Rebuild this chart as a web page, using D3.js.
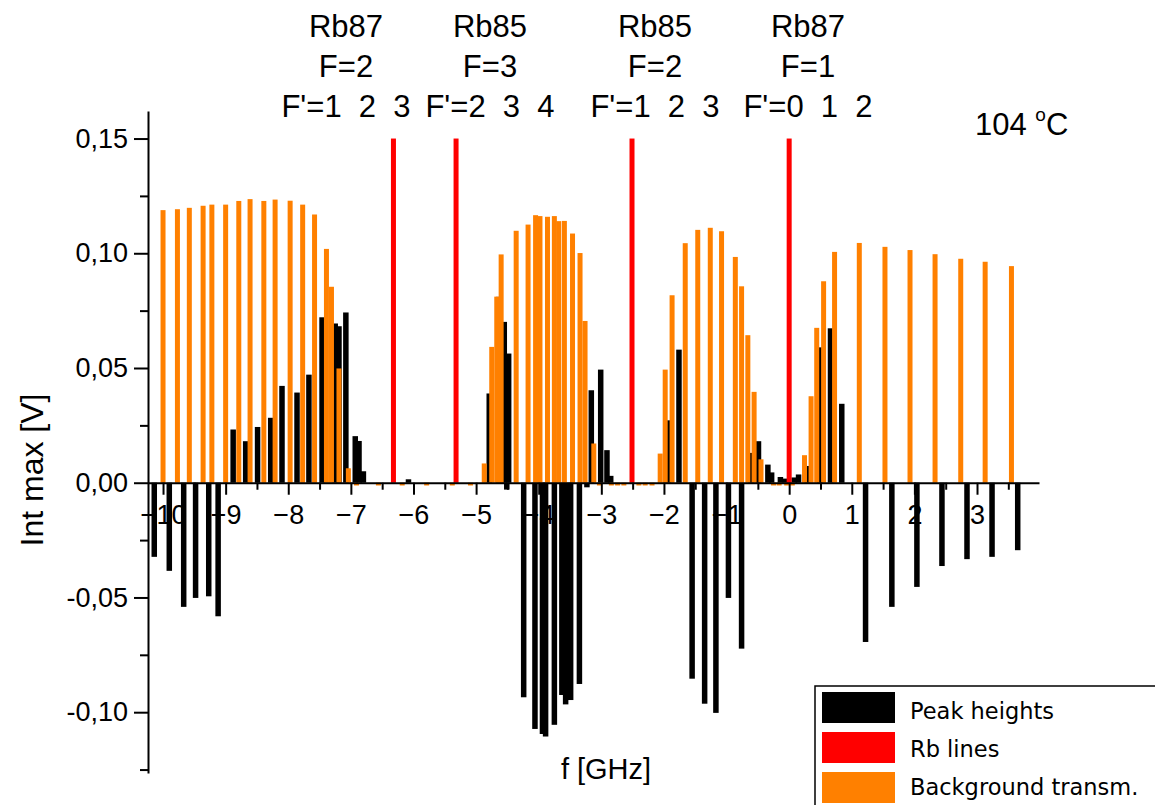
<!DOCTYPE html>
<html>
<head>
<meta charset="utf-8">
<script src="https://cdn.jsdelivr.net/npm/d3@7"></script>
<style>
  html, body { margin: 0; padding: 0; background: #fff; }
  svg { display: block; }
</style>
</head>
<body>
<svg id="chart" width="1155" height="805"></svg>
<script>
// ---------------- data ----------------
// Peak heights (black)
const peakF = [-10.14, -9.90, -9.67, -9.48, -9.27, -9.12,
  -8.88, -8.68, -8.49, -8.28, -8.10, -7.86, -7.67, -7.46, -7.25, -7.19, -7.08, -6.93, -6.87, -6.80, -6.08,
  -4.79, -4.64, -4.55, -4.48, -4.51,
  -4.24, -4.06, -3.94, -3.89, -3.75, -3.63, -3.57, -3.49, -3.35, -3.23,
  -3.16, -3.01, -2.91, -2.85,
  -1.93, -1.76, -1.55, -1.35, -1.17, -0.97, -0.76, -0.61, -0.49, -0.34, -0.28, -0.14, -0.06, 0.08, 0.15, 0.29, 0.49, 0.66, 0.84,
  1.22, 1.64, 2.04, 2.44, 2.84, 3.24, 3.65];
const peakV = [-0.0323, -0.0384, -0.0541, -0.0502, -0.0495, -0.0582,
  0.0232, 0.0181, 0.0243, 0.0283, 0.0422, 0.0393, 0.0471, 0.0721, 0.0694, 0.0682, 0.0742, 0.0203, 0.0182, 0.0050, 0.0015,
  0.0389, 0.0810, 0.0701, 0.0563, -0.0030,
  -0.0935, -0.1073, -0.1095, -0.1106, -0.1055, -0.0925, -0.0966, -0.0947, -0.0877, -0.0020,
  0.0403, 0.0493, 0.0142, 0.0030,
  0.0272, 0.0580, -0.0854, -0.0963, -0.1003, -0.0502, -0.0723, 0.0130, 0.0181, 0.0079, 0.0045, 0.0025, 0.0018, 0.0023, 0.0036, 0.0073, 0.0590, 0.0673, 0.0344,
  -0.0694, -0.0541, -0.0454, -0.0363, -0.0333, -0.0323, -0.0294];

// Background transmission (orange)
const bgF = [-10.00, -9.77, -9.58, -9.36, -9.22, -9.00, -8.79, -8.61, -8.39, -8.21, -7.97, -7.77, -7.58, -7.39, -7.31, -7.19, -7.04,
  -6.91, -6.56, -6.18, -5.79, -5.38, -5.09,
  -4.87, -4.75, -4.67, -4.60, -4.36, -4.17, -4.05, -3.98, -3.86, -3.75, -3.68, -3.59, -3.46, -3.34, -3.26, -3.12,
  -3.03, -2.84, -2.74, -2.64, -2.40, -2.30, -2.19,
  -2.06, -1.98, -1.87, -1.66, -1.46, -1.26, -1.08, -0.86, -0.76, -0.66, -0.56, -0.45,
  -0.25, -0.16, -0.04, 0.05,
  0.245, 0.35, 0.44, 0.55, 0.725, 1.12, 1.53, 1.93, 2.33, 2.74, 3.13, 3.55];
const bgV = [0.1188, 0.1192, 0.1198, 0.1207, 0.1212, 0.1212, 0.1228, 0.1236, 0.1228, 0.1234, 0.1229, 0.1212, 0.1169, 0.1019, 0.0854, 0.0498, 0.0063,
  -0.0012, -0.0012, -0.0012, -0.0012, -0.0012, -0.0012,
  0.0084, 0.0592, 0.0811, 0.0995, 0.1098, 0.1125, 0.1166, 0.1162, 0.1159, 0.1162, 0.1140, 0.1141, 0.1086, 0.1001, 0.0705, 0.0171,
  -0.0012, -0.0012, -0.0012, -0.0012, -0.0012, -0.0012, -0.0012,
  0.0127, 0.0493, 0.0817, 0.1044, 0.1102, 0.1111, 0.1096, 0.0984, 0.0856, 0.0643, 0.0396, 0.0102,
  -0.0012, -0.0012, -0.0012, -0.0012,
  0.0120, 0.0377, 0.0675, 0.0878, 0.1006, 0.1045, 0.1028, 0.1014, 0.0996, 0.0976, 0.0963, 0.0944];

// Rb lines (red)
const rbF = [-6.32, -5.32, -2.51, 0.0];
const rbV = [0.15, 0.15, 0.15, 0.15];

// Axis ticks
const xMajor = [-10, -9, -8, -7, -6, -5, -4, -3, -2, -1, 0, 1, 2, 3];
const xMinor = [-9.5, -8.5, -7.5, -6.5, -5.5, -4.5, -3.5, -2.5, -1.5, -0.5, 0.5, 1.5, 2.5, 3.5];
const yMajor = [-0.10, -0.05, 0.00, 0.05, 0.10, 0.15];
const yMinor = [-0.125, -0.075, -0.025, 0.025, 0.075, 0.125];

// Labels
const lineLabels = [
  ["Rb87", "F=2", "F'=1  2  3"],
  ["Rb85", "F=3", "F'=2  3  4"],
  ["Rb85", "F=2", "F'=1  2  3"],
  ["Rb87", "F=1", "F'=0  1  2"]
];
const legendNames = ["Peak heights", "Rb lines", "Background transm."];
const colors = ["#000000", "#ff0000", "#ff8000"];

// ---------------- chart ----------------
const SANS = "'Liberation Sans', Arial, sans-serif";
const svg = d3.select("#chart");
svg.append("rect").attr("width", 1155).attr("height", 805).attr("fill", "#fff");

const x = d3.scaleLinear().domain([-10.24, 3.99]).range([148, 1039]);
const y = d3.scaleLinear().domain([-0.1265, 0.162]).range([773, 111]);

const locale = d3.formatLocale({decimal: ",", thousands: ".", grouping: [3], currency: ["", ""], minus: "-"});
const fmtY = locale.format(".2f");

function bars(F, V, color, w) {
  svg.append("g").selectAll("rect").data(F.map((f, i) => [f, V[i]])).join("rect")
    .attr("x", d => x(d[0]) - w / 2)
    .attr("width", w)
    .attr("y", d => Math.min(y(d[1]), y(0)))
    .attr("height", d => Math.abs(y(d[1]) - y(0)))
    .attr("fill", color);
}
bars(peakF, peakV, colors[0], 5.5);
bars(bgF, bgV, colors[2], 5);
bars(rbF, rbV, colors[1], 5);

// x axis (at y = 0)
const gx = svg.append("g").attr("transform", `translate(0,${y(0)})`);
gx.call(d3.axisBottom(x).tickValues(xMajor).tickSize(12).tickSizeOuter(0).tickPadding(6).tickFormat(d3.format("d")));
const gxm = svg.append("g").attr("transform", `translate(0,${y(0)})`);
gxm.call(d3.axisBottom(x).tickValues(xMinor).tickSize(7).tickSizeOuter(0).tickFormat(""));
gxm.select(".domain").remove();

// y axis
const gy = svg.append("g").attr("transform", `translate(${x(-10.24)},0)`);
gy.call(d3.axisLeft(y).tickValues(yMajor).tickSize(14).tickSizeOuter(0).tickPadding(6).tickFormat(fmtY));
const gym = svg.append("g").attr("transform", `translate(${x(-10.24)},0)`);
gym.call(d3.axisLeft(y).tickValues(yMinor).tickSize(8).tickSizeOuter(0).tickFormat(""));
gym.select(".domain").remove();

svg.selectAll(".domain, .tick line").attr("stroke", "#000").attr("stroke-width", 2);
svg.selectAll(".tick text").style("font-family", SANS).style("font-size", "27px").attr("fill", "#000");
gx.selectAll(".tick text").attr("dy", "0.88em");

// axis titles
svg.append("text").attr("x", 606).attr("y", 779).attr("text-anchor", "middle")
  .style("font-family", SANS).style("font-size", "29px").text("f [GHz]");
svg.append("text").attr("transform", "translate(43,470) rotate(-90)").attr("text-anchor", "middle")
  .style("font-family", SANS).style("font-size", "32px").text("Int max [V]");

// line annotations above red lines
const annX = [346, 490, 655, 808];
lineLabels.forEach((lines, i) => {
  const t = svg.append("text").attr("text-anchor", "middle")
    .style("font-family", SANS).style("font-size", "31px").style("white-space", "pre");
  lines.forEach((s, j) => {
    t.append("tspan").attr("x", annX[i]).attr("y", 37 + j * 40).text(s);
  });
});

// temperature
const tt = svg.append("text").attr("x", 975).attr("y", 135).style("font-family", SANS).style("font-size", "31px");
tt.append("tspan").text("104 ");
tt.append("tspan").style("font-size", "19px").attr("dy", -14).text("o");
tt.append("tspan").attr("dy", 14).text("C");

// legend
const lg = svg.append("g");
lg.append("rect").attr("x", 815).attr("y", 686).attr("width", 360).attr("height", 140)
  .attr("fill", "#fff").attr("stroke", "#000").attr("stroke-width", 1.5);
legendNames.forEach((n, i) => {
  lg.append("rect").attr("x", 822).attr("y", 692 + i * 40).attr("width", 73).attr("height", 31).attr("fill", colors[i]);
  lg.append("text").attr("x", 910).attr("y", 719 + i * 38)
    .style("font-family", "'DejaVu Sans', sans-serif").style("font-size", "22.5px").text(n);
});
</script>
</body>
</html>
